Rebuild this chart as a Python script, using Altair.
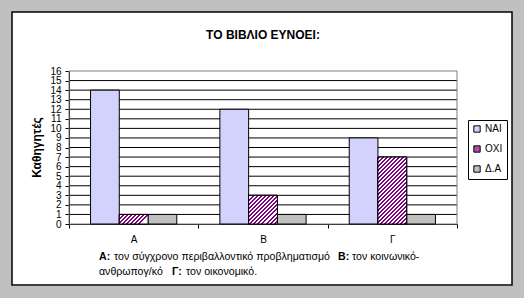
import altair as alt
import pandas as pd

# ---- data ----
categories = ["Α", "Β", "Γ"]
series = ["ΝΑΙ", "ΟΧΙ", "Δ.Α"]
nai = [14, 12, 9]
oxi = [1, 3, 7]
da = [1, 1, 1]
y_ticks = list(range(0, 17))
grid_values = list(range(1, 16))
title_text = "ΤΟ ΒΙΒΛΙΟ ΕΥΝΟΕΙ:"
y_title = "Καθηγητές"
footer_keys = ["Α:", "Β:", "Γ:"]
footer_texts = [
    "τον σύγχρονο περιβαλλοντικό προβληματισμό",
    "τον κοινωνικό-",
    "ανθρωπογ/κό",
    "τον οικονομικό.",
]

rows = []
for i, c in enumerate(categories):
    for s, vals in zip(series, [nai, oxi, da]):
        rows.append({"cat": c, "series": s, "value": vals[i]})
df = pd.DataFrame(rows)
grid_df = pd.DataFrame({"v": grid_values})
one_df = pd.DataFrame({"k": [0]})

# ---- style ----
W, H = 388, 153
LEFT, TOP = 69, 71
FONT = "Liberation Sans"
PURPLE = "#800080"
colors = ["#d2d2fc", "#a850a8", "#c0c0c0"]
YMAX = 16

x_scale = alt.Scale(domain=categories, paddingInner=0, paddingOuter=0)
xo_scale = alt.Scale(domain=series, paddingInner=0, paddingOuter=0.75)
y_scale = alt.Scale(domain=[0, YMAX], nice=False)

x_axis = alt.Axis(
    tickBand="extent",
    tickSize=4,
    tickColor="black",
    domainColor="black",
    labelAngle=0,
    labelFontSize=10,
    labelColor="black",
    labelPadding=6,
    grid=False,
    title=None,
)
y_axis = alt.Axis(
    orient="left",
    values=y_ticks,
    tickSize=4,
    tickColor="black",
    domainColor="black",
    labelFontSize=10,
    labelColor="black",
    labelPadding=4,
    labelOverlap=False,
    labelBound=False,
    grid=False,
    title=y_title,
    titleFontSize=12,
    titleFontWeight="bold",
    titleColor="black",
    titleAngle=270,
    titleAlign="center",
    titleBaseline="middle",
    titleX=-33,
    titleY=76,
)


def stripe_gradient(value):
    bar_w = W / len(categories) / 4.5
    h = value * H / YMAX
    r = h / bar_w
    n = max(1, int(round(bar_w * (1 + r * r) / 4.0)))
    stops = []
    for k in range(n):
        a, m, b = k / n, (k + 0.5) / n, (k + 1) / n
        stops += [
            {"offset": a, "color": PURPLE},
            {"offset": m, "color": PURPLE},
            {"offset": m, "color": "#ffffff"},
            {"offset": b, "color": "#ffffff"},
        ]
    return {"gradient": "linear", "x1": 0, "y1": 0, "x2": 1, "y2": r, "stops": stops}


grid = alt.Chart(grid_df).mark_rule(color="black", strokeWidth=1).encode(
    y=alt.Y("v:Q", scale=y_scale, axis=None)
)

border = alt.Chart(one_df).mark_rect(
    fillOpacity=0, stroke="#808080", strokeWidth=1
).encode(
    x=alt.value(0), x2=alt.value(W), y=alt.value(0), y2=alt.value(H)
)

bars = alt.Chart(df).mark_bar(stroke="black", strokeWidth=1).encode(
    x=alt.X("cat:N", scale=x_scale, axis=x_axis),
    xOffset=alt.XOffset("series:N", scale=xo_scale),
    y=alt.Y("value:Q", scale=y_scale, axis=y_axis),
    color=alt.Color(
        "series:N",
        scale=alt.Scale(domain=series, range=colors),
        legend=alt.Legend(
            title=None,
            orient="none",
            legendX=399,
            legendY=49,
            symbolType="square",
            symbolSize=40,
            symbolStrokeColor="black",
            symbolStrokeWidth=1,
            labelFontSize=10,
            labelColor="black",
            labelOffset=3,
            rowPadding=8,
            padding=4,
            strokeColor="black",
            fillColor="white",
        ),
    ),
)

stripe_layers = []
for c, v in zip(categories, oxi):
    stripe_layers.append(
        alt.Chart(df)
        .transform_filter((alt.datum.cat == c) & (alt.datum.series == "ΟΧΙ"))
        .mark_bar(fill=stripe_gradient(v), stroke="black", strokeWidth=1)
        .encode(
            x=alt.X("cat:N", scale=x_scale, axis=x_axis),
            xOffset=alt.XOffset("series:N", scale=xo_scale),
            y=alt.Y("value:Q", scale=y_scale, axis=y_axis),
        )
    )

data_layers = alt.layer(bars, *stripe_layers)


# footer note below the x axis (bold keys, normal descriptions)
def note(text, x_abs, y_abs, bold):
    return alt.Chart(one_df).mark_text(
        align="left",
        baseline="alphabetic",
        fontSize=10.6,
        fontWeight="bold" if bold else "normal",
        color="black",
        font=FONT,
    ).encode(
        x=alt.value(x_abs - LEFT), y=alt.value(y_abs - TOP), text=alt.value(text)
    )


footer = [
    note(footer_keys[0], 99, 260, True),
    note(footer_texts[0], 114, 260, False),
    note(footer_keys[1], 338, 260, True),
    note(footer_texts[1], 352, 260, False),
    note(footer_texts[2], 99, 275, False),
    note(footer_keys[2], 172, 275, True),
    note(footer_texts[3], 186, 275, False),
]

# grey window margin (drawn over the empty outer edge) and black chart frame
margin = alt.Chart(one_df).mark_rect(
    fillOpacity=0, stroke="#c0c0c0", strokeWidth=24
).encode(
    x=alt.value(-69), x2=alt.value(455), y=alt.value(-71), y2=alt.value(227)
)
frame = alt.Chart(one_df).mark_rect(
    fillOpacity=0, stroke="black", strokeWidth=1.5
).encode(
    x=alt.value(-57), x2=alt.value(443), y=alt.value(-59), y2=alt.value(214)
)

chart = (
    alt.layer(grid, border, data_layers, *footer, margin, frame)
    .resolve_axis(y="independent")
    .properties(
        width=W,
        height=H,
        autosize=alt.AutoSizeParams(type="none"),
        padding={"left": LEFT, "top": TOP, "right": 67, "bottom": 74},
        title=alt.TitleParams(
            title_text,
            fontSize=12,
            fontWeight="bold",
            color="black",
            anchor="middle",
            baseline="bottom",
            offset=-66,
        ),
    )
    .configure(background="white", font=FONT)
    .configure_view(stroke=None)
)

chart.save("out.html", embed_options={"renderer": "svg", "actions": False})
